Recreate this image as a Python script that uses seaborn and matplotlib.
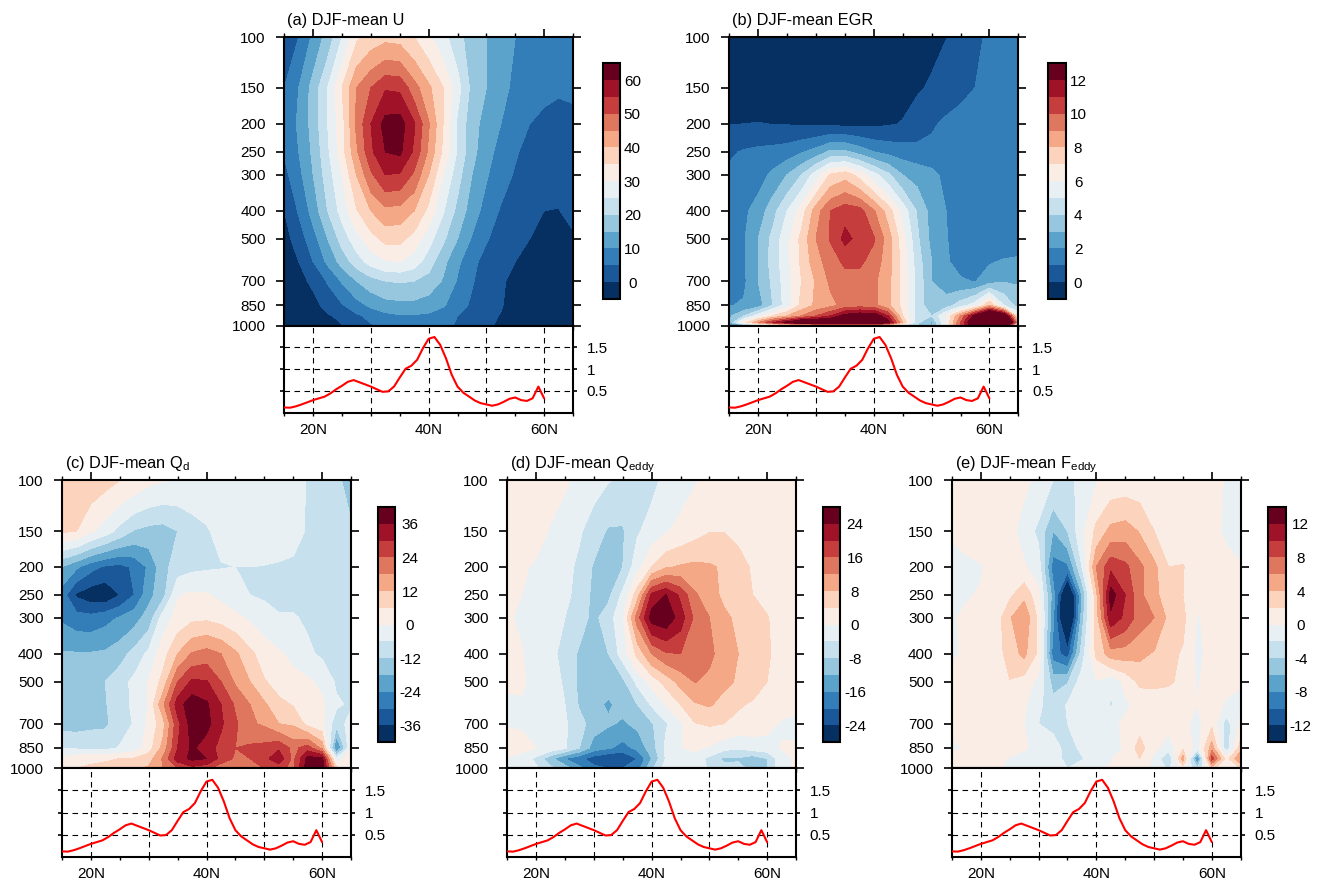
import matplotlib
matplotlib.use("Agg")
import matplotlib.pyplot as plt
from matplotlib.ticker import NullLocator, FixedLocator, FixedFormatter
import numpy as np
import seaborn as sns

sns.set_theme(style="ticks")
plt.rcParams["font.family"] = ["Liberation Sans", "DejaVu Sans"]
plt.rcParams["mathtext.fontset"] = "custom"
plt.rcParams["mathtext.rm"] = "Liberation Sans"
plt.rcParams["mathtext.default"] = "rm"

lat = [15, 17.5, 20, 22.5, 25, 27.5, 30, 32.5, 35, 37.5, 40, 42.5, 45, 47.5, 50, 52.5, 55, 57.5, 60, 62.5, 65]
plev = [100, 150, 200, 250, 300, 400, 500, 600, 700, 850, 925, 1000]
plev_b = [100, 150, 200, 250, 300, 400, 500, 600, 700, 850, 925, 975, 1000]
ytick_vals = [100, 150, 200, 250, 300, 400, 500, 700, 850, 1000]

u_mean = [
 [1,5,11,17,25,34,37,38.5,38,35,31,26.5,22,17,15,12.5,10,9,8,7.5,7],
 [5,10,17,25,35,45,50,54.5,54,47,41,35,27,18.5,15,12,8.5,7,6,5.5,6],
 [7.5,10.5,17,25,33,46,55,62,62.5,55.5,45.5,35,24,17,13,10,7,5,4,3.5,3.5],
 [5.5,10,16,24,33,44,54,60,61,54,44,34,24.5,16.5,12,8,5.5,3.5,2,2,2],
 [3.5,8.5,15,22.5,30,40,49,55,54.5,49,40,30,22,15,10.5,7,4.5,2.5,1.5,1,1],
 [0,5.5,12,20,27,34.5,40,43.5,43,40,33.5,25.5,18.5,12.5,8,4.5,2.5,1,0,-0.1,1],
 [-2,2.5,8,15,22,28,33,36.5,36.5,33,27,21,15,9.5,5.5,2.5,1.5,0,-1,-1,-0.5],
 [-4,0,5,11,17,22.5,27,29.5,30,27.5,22.5,16.5,11,6.5,3,1,0,-1.5,-2,-2,-2],
 [-5,-1.5,1,5.5,10.5,15,18,20,20.5,20,18,14.5,9.5,5.5,2,0.5,-1,-2.5,-3,-3,-3],
 [-5,-3,-1.5,1.5,4.5,8,11,13,13.5,13.5,12.5,10.5,7.5,4,1.5,0.3,-1.5,-3,-3.5,-3.5,-3.5],
 [-5,-3.5,-2.5,-0.5,1,4,6.5,8.5,9.5,9.5,9,7.5,5,2.5,1,-0.2,-2,-3.5,-4,-4,-4],
 [-5,-4,-3,-1.5,-0.2,2,4.5,6,7,7,6.5,6,4.5,2,0.5,-0.5,-2.5,-4,-4,-4,-4],
]
egr_mean = [
 [-0.5,-0.5,-0.5,-0.5,-0.5,-0.5,-0.5,-0.5,-0.5,-0.5,-0.5,-0.5,-0.5,-0.4,-0.2,-0.02,0.4,0.8,1.15,1.3,1.4],
 [-0.5,-0.5,-0.5,-0.5,-0.5,-0.5,-0.5,-0.5,-0.5,-0.5,-0.5,-0.4,-0.3,-0.1,0.1,0.4,0.7,1.0,1.4,1.5,1.5],
 [-0.02,0.0,0.03,-0.02,-0.05,-0.1,-0.15,-0.2,-0.25,-0.25,-0.2,-0.1,0.05,0.4,0.85,1.2,1.4,1.5,1.5,1.5,1.5],
 [0.85,1.1,1.25,1.35,1.5,1.9,2.4,3.2,3.2,2.6,2.0,1.7,1.5,1.35,1.3,1.3,1.4,1.5,1.5,1.5,1.5],
 [1.2,1.4,1.6,2.2,3.0,4.0,5.5,7.1,7.6,6.6,5.3,4.2,3.0,2.6,2.3,1.7,1.4,1.3,1.3,1.3,1.3],
 [1.4,1.8,2.4,3.6,5.0,6.5,8.5,10.0,10.6,10.4,9.1,7.5,5.6,3.9,2.6,2.0,1.5,1.3,1.3,1.3,1.3],
 [1.3,1.9,3.0,4.3,5.7,7.3,9.0,10.1,11.3,10.7,10.1,8.5,6.4,4.2,2.7,2.05,1.6,1.4,1.35,1.35,1.35],
 [1.2,1.9,3.0,4.4,5.7,7.2,8.6,9.5,10.2,10.2,9.6,8.4,6.6,4.5,3.0,2.1,1.7,1.55,1.9,2.1,2.2],
 [1.3,1.8,3.0,4.2,5.6,7.0,8.1,9.2,9.6,9.6,9.2,8.3,6.6,4.7,3.0,2.4,2.1,1.95,2.5,2.9,2.9],
 [1.95,2.1,2.5,4.0,5.5,7.3,8.2,8.7,9.3,9.5,9.3,8.2,6.7,4.6,3.3,3.5,4.5,5.5,8,5,3.5],
 [2.8,4,5.5,7,8,9,10,11,12.5,13,13,11,7,4.5,4,6,9,12.5,16,14,6],
 [3,6.5,9,11,12.5,14,14,14,14,14,14,12.5,8,4.2,2.8,6,10,14,20,18,8],
 [1.5,1.8,2.5,3.5,4.5,5,5.5,6,6.5,7,7,6,5,4,3,6,10,13,16,14,2],
]
qd_mean = [
 [11,10.5,9.5,8,6,4,1.5,0.2,-1,-2,-3,-3,-3.5,-4,-4,-4.5,-5,-6.2,-7,-8,-20],
 [7,6,1,-3,-8,-12.5,-14,-14.5,-12,-8.5,-6.5,-4.5,-3,-3,-3,-3.5,-4,-6.5,-7,-8,-9],
 [-18.5,-23,-28,-31,-32,-29,-23,-14,-9,-7.5,-6.8,-6.3,-6,-6,-6.2,-6.5,-7,-7,-7,-7.5,-8],
 [-27,-37,-40,-41,-36,-30,-20,-14,-0.5,1,0.5,-1.5,-4,-6,-7,-7.5,-7.5,-8,-8,-8,-8],
 [-25,-27.5,-28,-26,-23.5,-20.5,-15.5,-3,2,4.5,4.8,3.5,1.5,-1,-3,-5.5,-5.5,-6.8,-7.5,-8,-8],
 [-17.5,-17.5,-17.5,-17,-14.5,-10,-4.5,3.5,12,18.5,20.5,18,13,7.5,3,0.8,-2,-5,-7,-8,-8],
 [-15.5,-15.5,-15,-12,-8.5,-4.5,0.5,8,24,31,30.5,24,17,12,6.5,3.5,2.5,1,-1.5,-7,-8],
 [-15,-15,-14,-12.5,-8,-5,0.5,17,33,40,37,30,23,18,13,7.5,5.5,2.5,1,-5,-7],
 [-14.5,-14.5,-13.5,-13,-9,-5.5,1,10,28,39,38,31,25,19,17,12,11,4,1.5,-10,-3],
 [-6,-7,-7.5,-8,-5.5,-3.5,3,14,30,37,33,28,24,25,26,29,22,27,16,-26,0],
 [1,3.5,4.5,5,6,6.5,9,19,33,37.5,36,28,23,24,28,34,22,38,38,-5,5],
 [5,6,7,8,9.5,11,13,18,24,28,26,20,20,21,24,26,22,40,40,8,4],
]
qeddy_mean = [
 [2,1.8,1.2,0.9,0.4,-0.8,-2.5,-3.8,-4.5,-5.5,-5,-3,-1.5,-0.3,1,1.5,2,2,2,2,2],
 [1.5,0.9,0.8,-0.2,-1.5,-3.5,-6,-8.5,-8.5,-4.5,-2.5,-0.3,1,2.5,3.8,3.9,3,2.5,2,1.8,1.6],
 [0.7,0.3,-0.3,-1.5,-2.5,-5,-8.5,-11.5,-8,-1.5,4,7.5,8.5,9,8.5,7.5,5.5,3.5,2.5,1.8,1.5],
 [0.5,0,-0.7,-2,-3,-5.5,-9,-9,-3,6,21,24.1,19,12.5,10,7,5.5,4,3,2,1.5],
 [0.2,-0.3,-1,-2.2,-4,-6.5,-9,-6,-0.5,14,26,27,22,15,12,9,7,5.5,4.2,2.5,1.8],
 [0.3,0.1,-1,-2.5,-6,-8.5,-11,-8,-2,5,12,15.5,16,15.5,13,10,8,6,4.5,2.5,1.5],
 [0.3,0.4,-1,-2.5,-4.5,-9,-10,-10.5,-9,-3,1.5,5.5,9.5,12.2,11,9,7.5,6,4,2.5,1.5],
 [-0.3,-0.3,-1,-2.5,-4,-8.5,-11,-12.5,-11,-8,-3.5,0.2,4,7.5,8.5,6.5,4.5,3.5,2.5,1.5,1],
 [-0.2,-0.5,-1,-2,-3.5,-6.5,-10,-11.5,-12.5,-11,-8.5,-4.5,-0.5,3.8,4.5,4,2.8,2,1.2,-0.4,-1],
 [1.4,1.3,0,-1,-3.5,-8,-14,-15.5,-17.5,-15,-10,-3,-0.2,1,-0.5,-2.5,-3.5,-2,-1.5,0.2,0.5],
 [-0.2,-1.5,-5,-11,-16,-19,-22,-24,-24,-20,-12,-3.5,-0.5,-2,-5,-9,-8.5,-10.5,-8,-1.5,0.5],
 [-0.3,-1,-3.5,-7,-10,-15,-19,-20,-20,-18,-9,-2,-0.2,-2,-4.5,-6.5,-7,-9,-8,-1,0.5],
]
feddy_mean = [
 [0.8,0.8,0.8,0.8,0.7,0.4,-0.5,-2,-3,-1,-0.1,0.6,0.8,0.8,0.8,0.8,0.8,0.7,0.4,-0.1,-0.4],
 [0.2,0.7,0.8,0.8,0.6,-0.8,-2.5,-6,-4,-0.5,2.5,4.6,5,3.8,2,1,0.8,0.7,0.5,-0.3,-0.5],
 [-0.5,-0.4,-0.1,0.5,0.5,0.2,-1,-9,-8.5,-2,6,9.5,8.5,6.5,4.5,2,2.1,0.8,0.7,0.5,0.1],
 [-0.5,-0.1,0.1,0.8,1.5,3.5,0.5,-7,-17,-6,3.5,13,10,6.5,4.5,3,2,0.9,0.8,0.5,0.2],
 [-0.1,0.2,0.4,0.7,3.8,5.5,1.5,-7.5,-18,-5,3,11.5,9.5,7,6,3.5,2.5,-0.2,0.8,0.6,0.4],
 [-0.2,0.2,0.6,0.8,3,4.5,1.5,-9,-11,-3,2.5,5,5,4.5,3.8,2.5,1.8,-0.5,0.7,0.6,0.5],
 [0.5,0.6,0.7,0.8,1.9,1.1,-0.5,-4.8,-4.2,-1,-0.2,-1.3,0.5,2.5,2.5,2.3,1.5,-0.2,1,0.5,0.2],
 [0.7,0.7,0.7,0.7,0.6,0.3,-1.5,-3.3,-1.8,-0.3,-0.3,-2.3,-0.3,0.5,0.8,0.7,0.7,0,0.7,-0.2,-0.5],
 [0.5,0.6,0.8,0.8,0.4,0,-2,-2.8,-2,-0.6,-0.4,-0.4,0.3,1.2,0.7,0.6,0.5,-0.6,1.5,-3,0.5],
 [-0.3,0.1,0.7,0.6,0.5,0.1,-0.3,-0.8,-3,-1.5,-0.3,-1,0.3,2.8,0.5,-1,1.5,-0.8,5,-3.5,3],
 [0.7,0.7,0.5,0.3,-0.1,-0.3,-0.4,-0.5,-3,-2.2,-0.3,-0.2,1,2,-0.5,-4,5,-9,9,1,6],
 [0.7,0.7,0.6,0.1,-0.1,-0.2,-0.3,-1.5,-2,-1,-0.2,0.2,0.8,0.7,-0.3,-2.5,1,-4,2.5,0.5,2],
]

track_lat = list(range(15, 61))
track_val = [.12,.115,.146,.19,.24,.29,.33,.37,.445,.54,.62,.71,.75,.70,.65,.60,.54,.48,.49,.60,.81,1.01,1.08,1.215,1.48,1.70,1.74,1.56,1.25,.87,.60,.46,.37,.28,.22,.19,.16,.19,.25,.32,.35,.29,.27,.33,.60,.33]
track_ticks = [0.5, 1, 1.5]
track_tick_labels = ["0.5", "1", "1.5"]
grid_lat = [20, 30, 40, 50, 60]

titles = ["(a) DJF-mean U", "(b) DJF-mean EGR", r"(c) DJF-mean Q$_{d}$",
          r"(d) DJF-mean Q$_{eddy}$", r"(e) DJF-mean F$_{eddy}$"]
fields = [u_mean, egr_mean, qd_mean, qeddy_mean, feddy_mean]
field_plevs = [plev, plev_b, plev, plev, plev]
steps = [5, 1, 6, 4, 2]
starts = [0, 0, -36, -24, -12]
cbar_ticks = [[0,10,20,30,40,50,60], [0,2,4,6,8,10,12], [-36,-24,-12,0,12,24,36],
              [-24,-16,-8,0,8,16,24], [-12,-8,-4,0,4,8,12]]

W, H = 1320, 885
boxes = [(284.3, 573, 37, 325.7, 412.7), (729.3, 1018.3, 37, 325.7, 412.7),
         (62, 351, 480.3, 768.3, 856.7), (507.3, 796, 480.3, 768.3, 856.7),
         (952, 1240.7, 480.3, 768.3, 856.7)]
cbars = [(602.7, 620, 63.3, 299, 12.3), (1048.3, 1065.7, 63.3, 299, 12.3),
         (377.7, 395.3, 507, 742.3, 14.7), (822.7, 840.3, 507, 742.3, 14.7),
         (1268, 1286, 507, 742.3, 14.7)]

def px_axes(fig, l, r, t, b):
    return fig.add_axes([l / W, 1 - b / H, (r - l) / W, (b - t) / H])

palette = [tuple(c[:3]) for c in plt.get_cmap("RdBu_r")(np.linspace(0, 1, 14))]
fig = plt.figure(figsize=(W / 100, H / 100), dpi=100, facecolor="white")
LW = 1.5
FS = 11

for i, (box, cb) in enumerate(zip(boxes, cbars)):
    l, r, t, b, b2 = box
    ax = px_axes(fig, l, r, t, b)
    levels = [starts[i] + steps[i] * k for k in range(13)]
    cf = ax.contourf(lat, field_plevs[i], np.array(fields[i], dtype=float), levels=levels,
                     colors=palette, extend="both")
    ax.set_yscale("log")
    ax.set_ylim(1000, 100)
    ax.set_xlim(15, 65)
    ax.yaxis.set_major_locator(FixedLocator(ytick_vals))
    ax.yaxis.set_major_formatter(FixedFormatter([str(v) for v in ytick_vals]))
    ax.yaxis.set_minor_locator(NullLocator())
    ax.xaxis.set_major_locator(FixedLocator([20, 40, 60]))
    ax.xaxis.set_minor_locator(FixedLocator([15, 25, 30, 35, 45, 50, 55, 65]))
    ax.tick_params(axis="y", which="major", direction="out", left=True, right=True,
                   length=5.8, width=1.2, labelsize=FS, pad=7.5, color="black", labelcolor="black")
    ax.tick_params(axis="x", which="major", direction="out", top=True, bottom=True,
                   length=5.8, width=1.2, labelbottom=False, color="black")
    ax.tick_params(axis="x", which="minor", direction="out", top=True, bottom=True,
                   length=2.9, width=1.0, color="black")
    for s in ax.spines.values():
        s.set_linewidth(LW)
        s.set_color("black")
        s.set_zorder(5)
    ax.text(3 / (r - l), 1 + 12.5 / (b - t), titles[i], transform=ax.transAxes,
            fontsize=11.8, color="black", ha="left", va="baseline")

    ax2 = px_axes(fig, l, r, b, b2)
    ax2.set_xlim(15, 65)
    ax2.set_ylim(0, 2)
    for g in grid_lat:
        ax2.axvline(g, color="black", lw=0.8, dashes=(5, 4), zorder=1)
    for g in track_ticks:
        ax2.axhline(g, color="black", lw=0.8, dashes=(5, 4), zorder=1)
    sns.lineplot(x=track_lat, y=track_val, color="red", lw=1.5, ax=ax2, zorder=3)
    ax2.xaxis.set_major_locator(FixedLocator([20, 40, 60]))
    ax2.xaxis.set_major_formatter(FixedFormatter(["20N", "40N", "60N"]))
    ax2.xaxis.set_minor_locator(FixedLocator([15, 25, 30, 35, 45, 50, 55, 65]))
    ax2.yaxis.set_major_locator(FixedLocator(track_ticks))
    ax2.yaxis.set_major_formatter(FixedFormatter(track_tick_labels))
    ax2.yaxis.tick_right()
    ax2.tick_params(axis="x", which="both", direction="out", length=2, width=1.0,
                    labelsize=FS, pad=5.5, color="black", labelcolor="black")
    ax2.tick_params(axis="y", which="major", direction="out", left=True, right=True,
                    length=2.9, width=1.2, labelsize=FS, pad=7, color="black", labelcolor="black")
    for s in ax2.spines.values():
        s.set_linewidth(LW)
        s.set_color("black")

    cl, cr, ct, cbm, pad_px = cb
    cax = px_axes(fig, cl, cr, ct, cbm)
    bar = fig.colorbar(cf, cax=cax, ticks=cbar_ticks[i], extendrect=True, extendfrac="auto",
                       drawedges=False)
    bar.outline.set_linewidth(LW)
    bar.outline.set_edgecolor("black")
    cax.tick_params(axis="y", which="both", length=0, labelsize=FS, pad=pad_px * 0.72,
                    labelcolor="black")
    cax.minorticks_off()
    cax.set_yticklabels([str(v) for v in cbar_ticks[i]], ha="center")

fig.savefig("out.png", dpi=100, facecolor="white")
